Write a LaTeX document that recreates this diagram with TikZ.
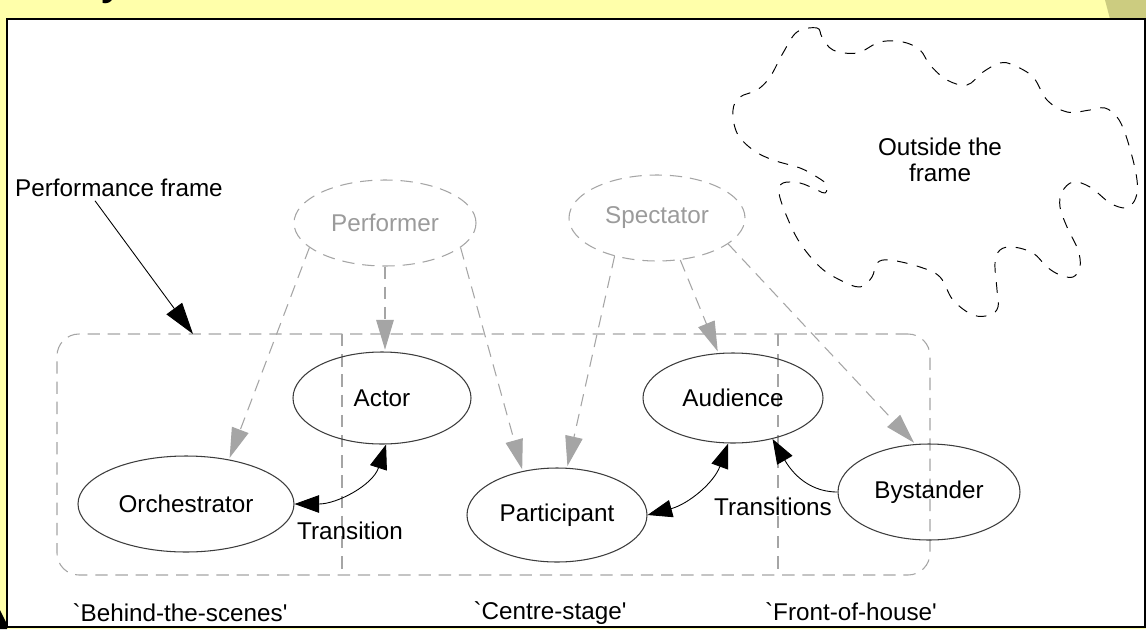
\documentclass[tikz,border=0pt]{standalone}
\usepackage{fontspec}
\setmainfont{Liberation Sans}
\usepackage{tikz}
\usetikzlibrary{shapes,arrows}
\usetikzlibrary{arrows.meta}
\definecolor{slideyellow}{RGB}{255,255,170}
\definecolor{slideshade}{RGB}{204,204,128}
\definecolor{ghostgray}{RGB}{155,155,155}
\definecolor{linegray}{RGB}{165,165,165}
\definecolor{rimgray}{RGB}{60,60,60}
\newcommand{\px}{0.02cm}
\newcommand{\pfrole}[5] {\node at (#1) (#2) [ellipse, draw=rimgray, line width=0.6pt, inner sep=0pt, minimum width=#4*\px, minimum height=#5*\px] {#3};}
\newcommand{\pfpotential}[5] {\node at (#1) (#2) [ellipse, draw=linegray, dash pattern=on 7pt off 4.5pt, line width=0.6pt, text=ghostgray, inner sep=0pt, minimum width=#4*\px, minimum height=#5*\px] {#3};}
\newcommand{\pflabel}[3] {\node at (#1) (#2) [inner sep=2pt, align=center] {#3};}
\newcommand{\pfcast}[2] {\draw [linegray, dash pattern=on 7pt off 4.5pt, line width=0.6pt, shorten >=1pt, -{Triangle[length=17pt,width=10pt]}] (#1) -- (#2);}
\newcommand{\pftransition}[4] {\draw [line width=0.5pt, {Triangle[length=14pt,width=10pt]}-{Triangle[length=14pt,width=10pt]}] (#1) to[out=#3, in=#4] (#2);}
\newcommand{\pfonewaytransition}[4] {\draw [line width=0.5pt, -{Triangle[length=14pt,width=10pt]}] (#1) to[out=#3, in=#4] (#2);}

\begin{document}
\begin{tikzpicture}[x=0.02cm, y=-0.02cm, font=\fontsize{13.8}{14.7}\selectfont]
\useasboundingbox (0,0) rectangle (1146,629);
\fill [slideyellow] (0,0) rectangle (1146,629);
\fill [slideshade] (1105,0) -- (1146,0) -- (1146,19) -- (1110,19) -- cycle;
\fill [black] (0,610) -- (7,624) -- (7,629) -- (0,629) -- cycle;
\begin{scope}
\clip (0,0) rectangle (1146,18);
\node [anchor=base west, inner sep=0pt, font=\fontsize{28}{30}\selectfont] at (101,-7) {y};
\end{scope}
\draw [fill=white, line width=1pt] (7,19) rectangle (1145,627);

\node at (493.5,454.5) (stage) [rectangle, draw=linegray, dash pattern=on 7pt off 4.5pt, line width=0.6pt, rounded corners=22*\px, inner sep=0pt, minimum width=873*\px, minimum height=241*\px] {};
\draw [linegray, dash pattern=on 7pt off 4.5pt, line width=0.6pt] (342,334) -- (342,575);
\draw [linegray, dash pattern=on 7pt off 4.5pt, line width=0.6pt] (778,334) -- (778,575);

\draw [black, dash pattern=on 6pt off 5.5pt, line width=0.55pt] plot [smooth cycle, tension=0.6] coordinates {
(797,32) (817,28) (822,37) (833,50) (857,53) (880,42) (903,42) (920,50) (930,65)
(947,80) (967,85) (983,72) (1000,63) (1013,65) (1033,77) (1047,100) (1067,112)
(1090,110) (1105,108) (1117,117) (1125,133) (1133,160) (1137,180) (1137,193)
(1133,203) (1125,208) (1110,203) (1090,187) (1073,182) (1062,192) (1060,207)
(1067,227) (1078,250) (1080,267) (1073,277) (1060,275) (1047,267) (1033,253)
(1013,247) (1000,250) (995,263) (997,290) (998,307) (990,315) (973,315) (953,300)
(940,277) (920,267) (890,260) (877,263) (872,277) (860,287) (840,280) (820,267)
(800,243) (787,217) (779,193) (783,183) (800,183) (817,190) (825,193) (827,185)
(817,177) (800,168) (773,160) (753,150) (737,133) (733,110) (740,97) (757,90)
(770,77) (783,53)};
\pflabel {940,160} {outside} {Outside the\\frame};

\pfpotential {385,223} {perf} {Performer} {182} {86};
\pfpotential {657,218} {spec} {Spectator} {176} {86};
\pfrole {382,398} {actor} {Actor} {178} {92};
\pfrole {186,504} {orch} {Orchestrator} {216} {96};
\pfrole {557,515} {part} {Participant} {180} {94};
\pfrole {733,398} {aud} {Audience} {180} {90};
\pfrole {929,492} {bys} {Bystander} {182} {96};

\pfcast{perf.198}{orch.46};
\pfcast{perf.south}{perf.south |- actor.north};
\pfcast{perf.-18}{part.128};
\pfcast{spec.222}{part.78};
\pfcast{spec.-61}{aud.108};
\pfcast{spec.-20}{bys.106};

\pftransition{orch.east}{actor.-85}{0}{252};
\pftransition{part.east}{aud.-96}{15}{250};
\pfonewaytransition{bys.west}{aud.-46}{180}{-60};
\pflabel {350,531} {shift} {Transition};
\pflabel {773,507} {shifts} {Transitions};

\pflabel {119,188} {perftext} {Performance frame};
\coordinate (frametip) at (193,334);
\draw [line width=0.5pt, -{Triangle[length=18pt,width=11pt]}] ([xshift=-24*\px]perftext.south) -- (frametip);

\pflabel {180,613} {behind} {\textasciigrave Behind-the-scenes\textquotesingle};
\pflabel {550,613} {centre} {\textasciigrave Centre-stage\textquotesingle};
\pflabel {851,612} {front} {\textasciigrave Front-of-house\textquotesingle};
\end{tikzpicture}
\end{document}
